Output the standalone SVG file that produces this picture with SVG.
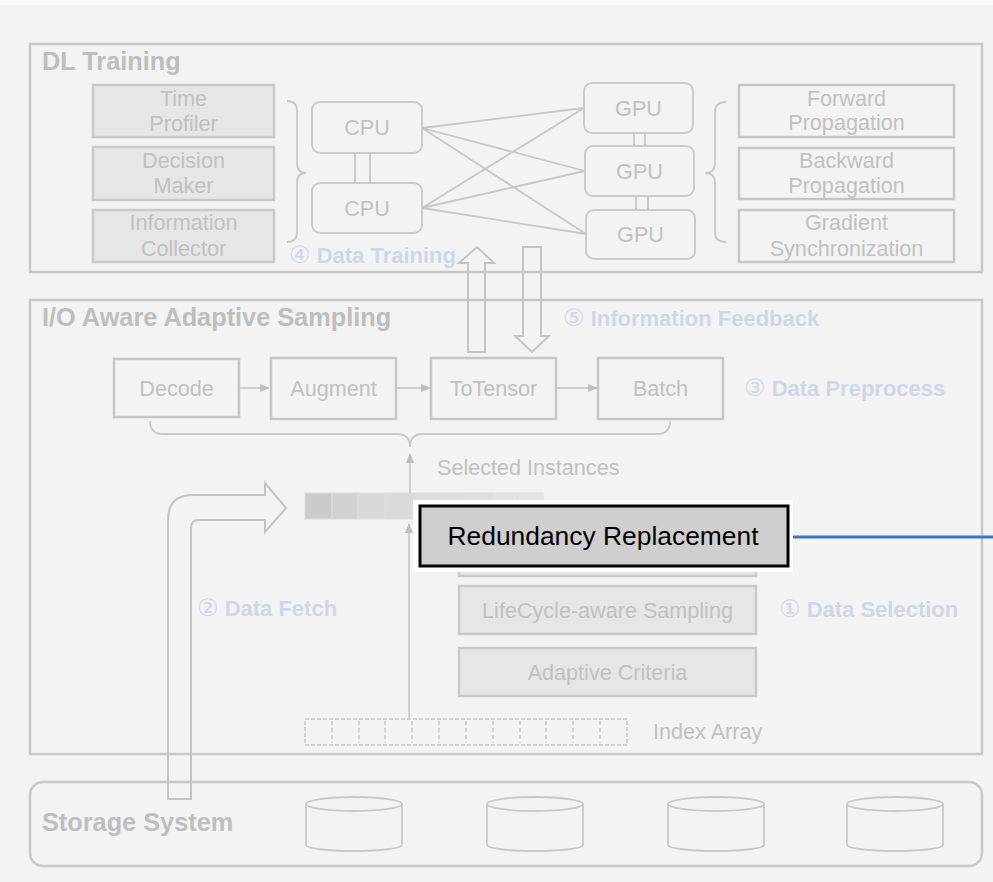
<svg xmlns="http://www.w3.org/2000/svg" width="993" height="882" viewBox="0 0 993 882">
  <defs>
    <marker id="tip" viewBox="0 0 10 10" refX="9" refY="5" markerWidth="10" markerHeight="10" markerUnits="userSpaceOnUse" orient="auto">
      <path d="M0,1 L10,5 L0,9 Z" fill="#bdbdbd"/>
    </marker>
    <style>
      .frame { fill: none; stroke: #c8c8c8; stroke-width: 2.5; }
      .box { fill: none; stroke: #c6c6c6; stroke-width: 2.5; }
      .sbox { fill: #e6e6e6; stroke: #c9c9c9; stroke-width: 2.5; }
      .rbox { fill: none; stroke: #cbcbcb; stroke-width: 2; }
      .wire { fill: none; stroke: #c8c8c8; stroke-width: 1.8; }
      .arr { fill: none; stroke: #c2c2c2; stroke-width: 1.5; marker-end: url(#tip); }
      .hollow { fill: none; stroke: #c4c4c4; stroke-width: 2; }
      .head { font-family: "Liberation Sans", Arial, sans-serif; font-weight: bold; font-size: 25.3px; fill: #bebebe; }
      .lbl { font-family: "Liberation Sans", Arial, sans-serif; font-size: 21.6px; fill: #c1c1c1; text-anchor: middle; }
      .step { font-family: "Liberation Sans", "DejaVu Sans", sans-serif; font-weight: bold; font-size: 22px; fill: #cfd7e6; }
      .step .num { font-weight: normal; font-size: 24px; }
    </style>
  </defs>

  <!-- canvas -->
  <rect x="0" y="0" width="993" height="882" fill="#f3f3f3"/>
  <rect x="0" y="0" width="993" height="5" fill="#fafafa"/>

  <!-- top layer: training -->
  <g id="dl-training">
    <rect class="frame" x="30" y="44" width="952" height="228"/>
    <text class="head" x="42" y="70">DL Training</text>
  </g>
  <g id="time-profiler">
    <rect class="sbox" x="93" y="85" width="181" height="52"/>
    <text class="lbl" x="183.5" y="106">Time</text>
    <text class="lbl" x="183.5" y="131">Profiler</text>
  </g>
  <g id="decision-maker">
    <rect class="sbox" x="93" y="147" width="181" height="53"/>
    <text class="lbl" x="183.5" y="168">Decision</text>
    <text class="lbl" x="183.5" y="193">Maker</text>
  </g>
  <g id="info-collector">
    <rect class="sbox" x="93" y="210" width="181" height="52"/>
    <text class="lbl" x="183.5" y="230">Information</text>
    <text class="lbl" x="183.5" y="256">Collector</text>
  </g>
  <g id="cpu-1">
    <rect class="rbox" x="312" y="102" width="110" height="51" rx="8"/>
    <text class="lbl" x="367" y="135">CPU</text>
  </g>
  <g id="cpu-2">
    <rect class="rbox" x="312" y="183" width="110" height="50" rx="8"/>
    <text class="lbl" x="367" y="216">CPU</text>
  </g>
  <g id="gpu-1">
    <rect class="rbox" x="584" y="83" width="109" height="50" rx="8"/>
    <text class="lbl" x="638.5" y="116">GPU</text>
  </g>
  <g id="gpu-2">
    <rect class="rbox" x="585" y="146" width="109" height="50" rx="8"/>
    <text class="lbl" x="639.5" y="179">GPU</text>
  </g>
  <g id="gpu-3">
    <rect class="rbox" x="586" y="210" width="109" height="49" rx="8"/>
    <text class="lbl" x="640.5" y="242">GPU</text>
  </g>
  <g id="forward-prop">
    <rect class="box" x="739" y="85" width="215" height="52"/>
    <text class="lbl" x="846.5" y="106">Forward</text>
    <text class="lbl" x="846.5" y="130">Propagation</text>
  </g>
  <g id="backward-prop">
    <rect class="box" x="739" y="148" width="215" height="51"/>
    <text class="lbl" x="846.5" y="168">Backward</text>
    <text class="lbl" x="846.5" y="193">Propagation</text>
  </g>
  <g id="gradient-sync">
    <rect class="box" x="739" y="210" width="215" height="52"/>
    <text class="lbl" x="846.5" y="230">Gradient</text>
    <text class="lbl" x="846.5" y="256">Synchronization</text>
  </g>

  <!-- middle layer: sampling -->
  <g id="io-sampling">
    <rect class="frame" x="30" y="300" width="952" height="454"/>
    <text class="head" x="42" y="326">I/O Aware Adaptive Sampling</text>
  </g>
  <g id="decode">
    <rect class="box" x="114" y="359" width="125" height="58"/>
    <text class="lbl" x="176.5" y="396">Decode</text>
  </g>
  <g id="augment">
    <rect class="box" x="271" y="358" width="125" height="61"/>
    <text class="lbl" x="333.5" y="396">Augment</text>
  </g>
  <g id="totensor">
    <rect class="box" x="431" y="358" width="125" height="61"/>
    <text class="lbl" x="493.5" y="396">ToTensor</text>
  </g>
  <g id="batch">
    <rect class="box" x="598" y="358" width="125" height="61"/>
    <text class="lbl" x="660.5" y="396">Batch</text>
  </g>
  <g id="selected-instances">
    <text class="lbl" x="437" y="475" style="text-anchor:start">Selected Instances</text>
    <g stroke="#dedede" stroke-width="1">
      <rect x="305" y="493" width="27" height="26" fill="#cbcbcb"/>
      <rect x="332" y="493" width="26" height="26" fill="#d1d1d1"/>
      <rect x="358" y="493" width="27" height="26" fill="#d8d8d8"/>
      <rect x="385" y="493" width="27" height="26" fill="#dadada"/>
      <rect x="412" y="493" width="27" height="26" fill="#dcdcdc"/>
      <rect x="439" y="493" width="26" height="26" fill="#dedede"/>
      <rect x="465" y="493" width="27" height="26" fill="#e0e0e0"/>
      <rect x="492" y="493" width="26" height="26" fill="#e2e2e2"/>
      <rect x="518" y="493" width="25" height="26" fill="#e5e5e5"/>
    </g>
  </g>
  <g id="selection-stack">
    <rect class="sbox" x="459" y="524" width="297" height="52"/>
  </g>
  <g id="lifecycle-sampling">
    <rect class="sbox" x="459" y="586" width="297" height="48"/>
    <text class="lbl" x="607.5" y="618">LifeCycle-aware Sampling</text>
  </g>
  <g id="adaptive-criteria">
    <rect class="sbox" x="459" y="648" width="297" height="48"/>
    <text class="lbl" x="607.5" y="680">Adaptive Criteria</text>
  </g>
  <g id="index-array">
    <rect x="305" y="719" width="322" height="26" fill="none" stroke="#c8c8c8" stroke-width="1.5" stroke-dasharray="4,2"/>
    <path d="M332,721 V743 M359,721 V743 M385,721 V743 M412,721 V743 M439,721 V743 M466,721 V743 M493,721 V743 M520,721 V743 M546,721 V743 M573,721 V743 M600,721 V743" stroke="#c8c8c8" stroke-width="1.5" stroke-dasharray="4,3" fill="none"/>
    <text class="lbl" x="653" y="739" style="text-anchor:start">Index Array</text>
  </g>

  <!-- bottom layer: storage -->
  <g id="storage-system">
    <rect class="frame" x="30" y="782" width="952" height="84" rx="13"/>
    <text class="head" x="42" y="831">Storage System</text>
  </g>
  <g id="disk-1" class="wire">
    <ellipse cx="354" cy="804" rx="48" ry="7"/>
    <path d="M306,804 V845 A48,6 0 0 0 402,845 V804"/>
  </g>
  <g id="disk-2" class="wire">
    <ellipse cx="535" cy="804" rx="48" ry="7"/>
    <path d="M487,804 V845 A48,6 0 0 0 583,845 V804"/>
  </g>
  <g id="disk-3" class="wire">
    <ellipse cx="716" cy="804" rx="48" ry="7"/>
    <path d="M668,804 V845 A48,6 0 0 0 764,845 V804"/>
  </g>
  <g id="disk-4" class="wire">
    <ellipse cx="895" cy="804" rx="48" ry="7"/>
    <path d="M847,804 V845 A48,6 0 0 0 943,845 V804"/>
  </g>

  <!-- step labels -->
  <g id="step-labels">
    <text class="step" x="289" y="263"><tspan class="num">④</tspan> Data Training</text>
    <text class="step" x="563" y="326"><tspan class="num">⑤</tspan> Information Feedback</text>
    <text class="step" x="744" y="396"><tspan class="num">③</tspan> Data Preprocess</text>
    <text class="step" x="197" y="616"><tspan class="num">②</tspan> Data Fetch</text>
    <text class="step" x="779" y="617"><tspan class="num">①</tspan> Data Selection</text>
  </g>

  <!-- connectors -->
  <g id="connectors">
    <!-- CPU / GPU interconnect -->
    <path class="wire" d="M422,128 L584,108 M422,128 L585,171 M422,128 L586,234 M422,208 L584,108 M422,208 L585,171 M422,208 L586,234"/>
    <path class="wire" d="M355,153 V183 M370,153 V183 M634,133 V146 M645,133 V146 M636,196 V210 M648,196 V210"/>
    <!-- braces -->
    <path class="wire" d="M287,101 Q297,101 297,111 L297,163 Q297,173 306,173 Q297,173 297,183 L297,232 Q297,242 287,242"/>
    <path class="wire" d="M726,102 Q715,102 715,112 L715,163 Q715,173 705,173 Q715,173 715,183 L715,232 Q715,242 726,242"/>
    <path class="wire" d="M150,421 Q150,434 163,434 L397,434 Q410,434 410,447 Q410,434 423,434 L657,434 Q670,434 670,421"/>
    <!-- pipeline flow -->
    <line class="arr" x1="239" y1="388" x2="269" y2="388"/>
    <line class="arr" x1="396" y1="388" x2="430" y2="388"/>
    <line class="arr" x1="556" y1="388" x2="597" y2="388"/>
    <line class="arr" x1="410" y1="493" x2="410" y2="454"/>
    <line class="arr" x1="409" y1="718" x2="409" y2="524"/>
    <!-- training / feedback exchange -->
    <path class="hollow" d="M468,352 V263 H459 L477,247 L494,263 H485 V352 Z"/>
    <path class="hollow" d="M523,247 H541 V336 H549 L532,352 L515,336 H523 Z"/>
    <!-- data fetch -->
    <path class="hollow" d="M168,799 V520 Q168,495 193,495 H265 V483 L286,508 L265,532 V520 H199 Q191,520 191,528 V799 Z"/>
  </g>

  <!-- highlighted callout -->
  <g id="redundancy-replacement">
    <rect x="413" y="500" width="380" height="72" fill="#ffffff"/>
    <rect x="420" y="506" width="368" height="60" fill="#d0cece" stroke="#000000" stroke-width="3"/>
    <text x="603" y="545" font-family="'Liberation Sans', Arial, sans-serif" font-size="26.4" fill="#000000" text-anchor="middle">Redundancy Replacement</text>
  </g>
  <g id="callout-line">
    <line x1="793" y1="537" x2="993" y2="537" stroke="#4472c4" stroke-width="3"/>
  </g>
</svg>
